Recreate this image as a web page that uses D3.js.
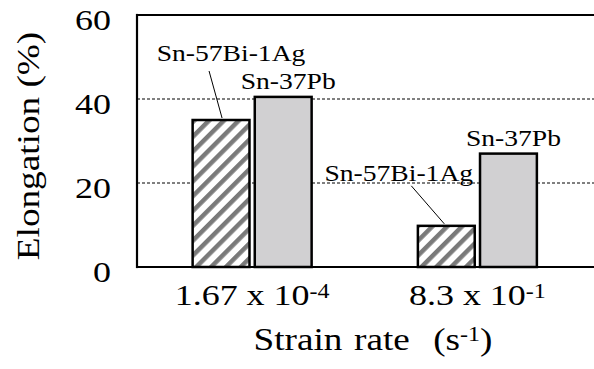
<!DOCTYPE html>
<html>
<head>
<meta charset="utf-8">
<script src="https://cdn.jsdelivr.net/npm/d3@7"></script>
<style>
  body { margin: 0; background: #fff; }
  svg { display: block; }
  text { font-family: "Liberation Serif", "Times New Roman", serif; fill: #000; }
</style>
</head>
<body>
<svg id="chart" width="594" height="369"></svg>
<script>
// Strain-rate groups (mantissa and exponent shown as a superscript)
const rateBase = ["1.67 x 10", "8.3 x 10"];
const rateExp = ["-4", "-1"];
// Solder alloys
const alloys = ["Sn-57Bi-1Ag", "Sn-37Pb"];
// Elongation (%) per strain rate
const biAgValues = [35, 9.8];
const pbValues = [40.5, 27];
// Y axis ticks
const yTicks = [0, 20, 40, 60];

const W = 594, H = 369;
const plot = { left: 137, top: 15, bottom: 267, right: 590 };
const FONT = "Liberation Serif";
const WIDEN = 1.2; // horizontal widening of the serif face

const svg = d3.select("#chart");

const y = d3.scaleLinear().domain([0, 60]).range([plot.bottom, plot.top]);
const x0 = d3.scaleBand().domain(rateBase).range([plot.left + 2.5, plot.right]).padding(0);
const x1 = d3.scaleBand().domain(alloys).range([-59.5, 59.5]).paddingInner(0.085).paddingOuter(0);

// hatch pattern for the Bi alloy
const defs = svg.append("defs");
const pat = defs.append("pattern")
  .attr("id", "hatch")
  .attr("patternUnits", "userSpaceOnUse")
  .attr("width", 10.5).attr("height", 10.5)
  .attr("patternTransform", "rotate(45)");
pat.append("rect").attr("width", 10.5).attr("height", 10.5).attr("fill", "#fff");
pat.append("rect").attr("width", 4.5).attr("height", 10.5).attr("fill", "#7a7a7a");

const fills = { "Sn-57Bi-1Ag": "url(#hatch)", "Sn-37Pb": "#d1d0d2" };

// dashed gridlines
svg.append("g").selectAll("line")
  .data(yTicks.filter(d => d > 0 && d < 60))
  .join("line")
  .attr("x1", plot.left).attr("x2", W)
  .attr("y1", d => y(d)).attr("y2", d => y(d))
  .attr("stroke", "#000").attr("stroke-width", 1)
  .attr("stroke-dasharray", "3,2");

// bars
const rows = rateBase.map((r, i) => ({
  rate: r, i,
  values: [
    { alloy: alloys[0], v: biAgValues[i] },
    { alloy: alloys[1], v: pbValues[i] }
  ]
}));

const groups = svg.append("g").selectAll("g")
  .data(rows).join("g")
  .attr("transform", d => `translate(${x0(d.rate) + x0.bandwidth() / 2},0)`);

groups.selectAll("rect")
  .data(d => d.values).join("rect")
  .attr("x", d => x1(d.alloy))
  .attr("width", x1.bandwidth())
  .attr("y", d => y(d.v))
  .attr("height", d => y(0) - y(d.v))
  .attr("fill", d => fills[d.alloy])
  .attr("stroke", "#000").attr("stroke-width", 2.5);

// frame: left axis, top and bottom borders
const frame = svg.append("g").attr("stroke", "#000").attr("stroke-width", 2.2).attr("fill", "none");
frame.append("line").attr("x1", plot.left).attr("x2", plot.left).attr("y1", plot.top - 1.1).attr("y2", plot.bottom + 1.1);
frame.append("line").attr("x1", plot.left).attr("x2", W).attr("y1", plot.top).attr("y2", plot.top);
frame.append("line").attr("x1", plot.left).attr("x2", W).attr("y1", plot.bottom).attr("y2", plot.bottom);

// y axis labels
const yAxis = svg.append("g")
  .attr("transform", `translate(${plot.left},0)`)
  .call(d3.axisLeft(y).tickValues(yTicks).tickSize(0).tickPadding(0));
yAxis.select(".domain").remove();
yAxis.selectAll("text")
  .attr("font-family", FONT)
  .attr("font-size", 30)
  .attr("fill", "#000")
  .attr("x", -26 / WIDEN)
  .attr("dy", "0.48em")
  .attr("transform", `scale(${WIDEN},1)`);

// x axis labels with superscript exponents
const xAxis = svg.append("g")
  .attr("transform", `translate(0,${plot.bottom})`)
  .call(d3.axisBottom(x0).tickSize(0).tickPadding(17));
xAxis.select(".domain").remove();
xAxis.selectAll("text")
  .attr("font-family", FONT)
  .attr("font-size", 30)
  .attr("fill", "#000")
  .attr("transform", `scale(${WIDEN},1)`)
  .text(null)
  .each(function (d, i) {
    const t = d3.select(this);
    t.append("tspan").text(rateBase[i]);
    t.append("tspan").attr("font-size", 20).attr("dy", -7).text(rateExp[i]);
  });

// value callouts
const barCenter = (i, a) => x0(rateBase[i]) + x0.bandwidth() / 2 + x1(a) + x1.bandwidth() / 2;
const biCallout = [
  { dx: 10, dy: -59, lx1: -12, ly1: -49, lx2: 1, ly2: -2 },
  { dx: -47.5, dy: -45, lx1: -35, ly1: -40, lx2: -2, ly2: -2 }
];
const ann = svg.append("g").attr("font-size", 23);
const label = (x, yPos, s) => ann.append("text")
  .attr("transform", `translate(${x},${yPos}) scale(${WIDEN},1)`)
  .attr("text-anchor", "middle").text(s);

biAgValues.forEach((v, i) => {
  const cx = barCenter(i, alloys[0]), top = y(v), c = biCallout[i];
  ann.append("line")
    .attr("x1", cx + c.lx1).attr("y1", top + c.ly1)
    .attr("x2", cx + c.lx2).attr("y2", top + c.ly2)
    .attr("stroke", "#000").attr("stroke-width", 1);
  label(cx + c.dx, top + c.dy, alloys[0]);
});
pbValues.forEach((v, i) => {
  label(barCenter(i, alloys[1]) + 5, y(v) - 7.5, alloys[1]);
});

// axis titles
const xt = svg.append("text")
  .attr("transform", `translate(373,350) scale(${WIDEN},1)`)
  .attr("text-anchor", "middle").attr("font-size", 31)
  .attr("word-spacing", 2);
xt.append("tspan").text("Strain rate\u00a0\u00a0(s");
xt.append("tspan").attr("font-size", 20).attr("dy", -9).text("-1");
xt.append("tspan").attr("dy", 9).text(")");

svg.append("text")
  .attr("transform", `translate(39,146) rotate(-90) scale(${WIDEN},1)`)
  .attr("text-anchor", "middle").attr("font-size", 31)
  .text("Elongation (%)");
</script>
</body>
</html>
